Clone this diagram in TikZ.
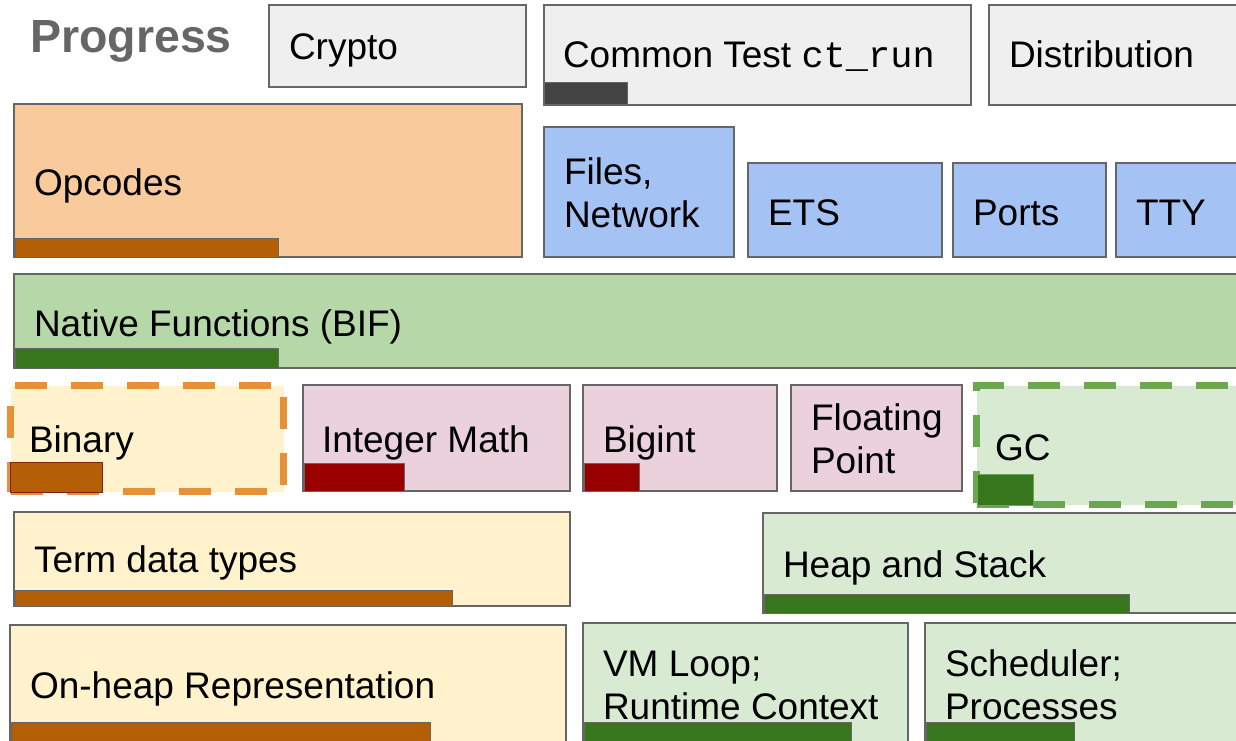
\documentclass[tikz,border=0pt]{standalone}
\usepackage{fontspec}
\setmainfont{Liberation Sans}
\setmonofont{Liberation Mono}
\definecolor{edge}{HTML}{666666}
\definecolor{titlegray}{HTML}{666666}
\definecolor{greyfill}{HTML}{EFEFEF}
\definecolor{orangefill}{HTML}{F9CB9C}
\definecolor{bluefill}{HTML}{A4C2F4}
\definecolor{greenfill}{HTML}{B6D7A8}
\definecolor{yellowfill}{HTML}{FFF2CC}
\definecolor{pinkfill}{HTML}{EAD1DC}
\definecolor{palegreen}{HTML}{D9EAD3}
\definecolor{barbrown}{HTML}{B45F06}
\definecolor{bargreen}{HTML}{38761D}
\definecolor{barred}{HTML}{990000}
\definecolor{bardark}{HTML}{434343}
\definecolor{dashorange}{HTML}{E69138}
\definecolor{dashgreen}{HTML}{6AA84F}
\definecolor{brownedge}{HTML}{85200C}
\tikzset{
  box/.style={draw=edge, line width=1.6pt, inner sep=0pt, outer sep=0pt, anchor=north west},
  dashbox/.style={line width=6.5pt, dash pattern=on 32pt off 24pt, inner sep=0pt, outer sep=0pt, anchor=north west},
  bar/.style={draw=edge, line width=1pt, inner sep=0pt, outer sep=0pt, anchor=north west},
  lbl/.style={anchor=base west, inner sep=0pt, outer sep=0pt, align=left, font=\fontsize{37}{43}\selectfont},
}
% a block: name, style, x, y, width, height
\newcommand{\blk}[6]{%
  \node[#2, minimum width=#5pt, minimum height=#6pt] (#1) at (#3,#4) {};}
\begin{document}
\begin{tikzpicture}[x=1pt,y=-1pt]
\useasboundingbox (0,0) rectangle (1236,741);
\clip (0,0) rectangle (1236,741);
\fill[white] (0,0) rectangle (1236,741);

% title
\node[anchor=base west, inner sep=0pt, text=titlegray,
      font=\fontsize{46.5}{50}\selectfont\bfseries] (title) at (30,53) {Progress};

% top row: tools
\blk{crypto}{box, fill=greyfill}{269}{5}{257}{82}
\node[lbl] (cryptoT) at (289,60) {Crypto};
\blk{ctest}{box, fill=greyfill}{544}{5}{427}{100}
\node[lbl] (ctestT) at (563,68) {Common Test \texttt{ct\_run}};
\blk{ctestB}{bar, fill=bardark}{544}{83}{83}{22}
\blk{dist}{box, fill=greyfill}{989}{5}{260}{100}
\node[lbl] (distT) at (1009,68) {Distribution};

% opcodes and I/O
\blk{opc}{box, fill=orangefill}{14}{104}{508}{153}
\node[lbl] (opcT) at (34,195) {Opcodes};
\blk{opcB}{bar, fill=barbrown}{15}{238}{263}{19}
\blk{files}{box, fill=bluefill}{544}{127}{190}{130}
\node[lbl] (filesT) at (564,227) {Files,\\Network};
\blk{ets}{box, fill=bluefill}{748}{163}{194}{94}
\node[lbl] (etsT) at (768,225) {ETS};
\blk{ports}{box, fill=bluefill}{953}{163}{153}{94}
\node[lbl] (portsT) at (973,225) {Ports};
\blk{tty}{box, fill=bluefill}{1116}{163}{140}{94}
\node[lbl] (ttyT) at (1136,225) {TTY};

% native functions
\blk{bif}{box, fill=greenfill}{14}{274}{1240}{94}
\node[lbl] (bifT) at (34,336) {Native Functions (BIF)};
\blk{bifB}{bar, fill=bargreen}{15}{348}{263}{20}

% data row
\blk{bin}{dashbox, draw=dashorange, fill=yellowfill}{10.5}{385.5}{273}{106}
\node[lbl] (binT) at (29,452) {Binary};
\blk{binB}{bar, draw=brownedge, fill=barbrown}{10}{462}{92}{30}
\blk{imath}{box, fill=pinkfill}{303}{385}{267}{106}
\node[lbl] (imathT) at (322,452) {Integer Math};
\blk{imathB}{bar, fill=barred}{304}{463}{100}{28}
\blk{bigint}{box, fill=pinkfill}{583}{385}{194}{106}
\node[lbl] (bigintT) at (603,452) {Bigint};
\blk{bigintB}{bar, fill=barred}{584}{463}{55}{28}
\blk{float}{box, fill=pinkfill}{791}{385}{171}{106}
\node[lbl] (floatT) at (811,473) {Floating\\Point};
\blk{gc}{dashbox, draw=dashgreen, fill=palegreen}{976.5}{385.5}{290}{119}
\node[lbl] (gcT) at (995,460) {GC};
\blk{gcB}{bar, draw=dashgreen, fill=bargreen}{977}{474}{56}{31}

% memory
\blk{term}{box, fill=yellowfill}{14}{512}{556}{94}
\node[lbl] (termT) at (34,572) {Term data types};
\blk{termB}{bar, fill=barbrown}{15}{590}{437}{16}
\blk{heap}{box, fill=palegreen}{763}{513}{490}{100}
\node[lbl] (heapT) at (783,577) {Heap and Stack};
\blk{heapB}{bar, fill=bargreen}{764}{594}{365}{19}

% bottom row
\blk{onheap}{box, fill=yellowfill}{10}{625}{556}{140}
\node[lbl] (onheapT) at (30,698) {On-heap Representation};
\blk{onheapB}{bar, fill=barbrown}{11}{722}{419}{40}
\blk{vm}{box, fill=palegreen}{583}{623}{325}{140}
\node[lbl] (vmT) at (603,719) {VM Loop;\\Runtime Context};
\blk{vmB}{bar, fill=bargreen}{584}{722}{267}{40}
\blk{sched}{box, fill=palegreen}{925}{623}{330}{140}
\node[lbl] (schedT) at (945,719) {Scheduler;\\Processes};
\blk{schedB}{bar, fill=bargreen}{926}{722}{148}{40}
\end{tikzpicture}
\end{document}
